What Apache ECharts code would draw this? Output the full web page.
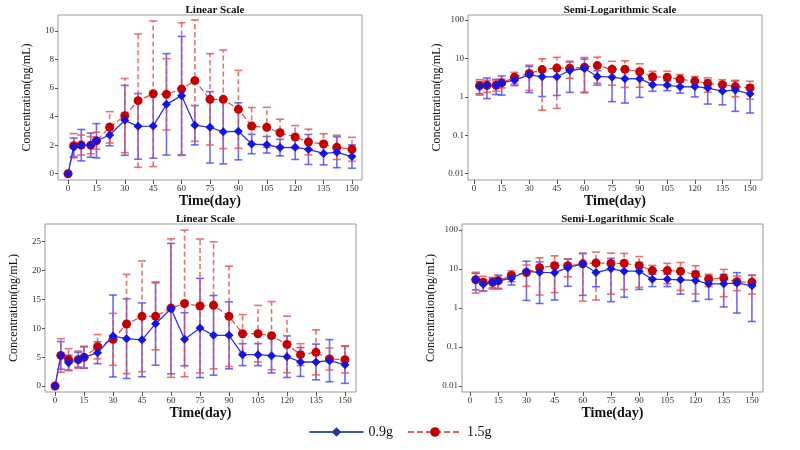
<!DOCTYPE html>
<html>
<head>
<meta charset="utf-8">
<script src="https://cdn.jsdelivr.net/npm/echarts@6/dist/echarts.min.js"></script>
<style>
  html, body { margin: 0; padding: 0; background: #fff; }
  #chart { width: 800px; height: 450px; }
</style>
</head>
<body>
<div id="chart"></div>
<script>
(function() {
  var days = [0, 3, 7, 12, 15, 22, 30, 37, 45, 52, 60, 67, 75, 82, 90, 97, 105, 112, 120, 127, 135, 142, 150];
  var xTicks = [0, 15, 30, 45, 60, 75, 90, 105, 120, 135, 150];
  var linTicksTop = [0, 2, 4, 6, 8, 10];
  var linTicksBottom = [0, 5, 10, 15, 20, 25];
  var logTicks = [0.01, 0.1, 1, 10, 100];

  // top row: mean and SD
  var lowMeanTop = [0, 1.85, 2.0, 2.0, 2.31, 2.71, 3.74, 3.32, 3.34, 4.86, 5.47, 3.40, 3.25, 2.94, 2.97, 2.08, 2.03, 1.83, 1.85, 1.70, 1.42, 1.50, 1.20];
  var lowSdTop = [0, 0.65, 1.1, 0.85, 1.2, 0.75, 2.45, 2.3, 2.25, 3.55, 4.15, 1.38, 2.5, 2.25, 2.0, 0.68, 0.58, 0.58, 0.85, 1.05, 0.8, 1.08, 0.82];
  var highMeanTop = [0, 1.96, 2.01, 2.0, 2.31, 3.25, 4.07, 5.12, 5.6, 5.56, 5.93, 6.52, 5.21, 5.21, 4.51, 3.34, 3.25, 2.87, 2.57, 2.22, 2.08, 1.85, 1.71];
  var highSdTop = [0, 0.85, 0.7, 0.6, 0.6, 1.1, 2.6, 4.67, 5.1, 2.5, 4.65, 4.25, 3.2, 3.45, 2.73, 1.3, 1.4, 0.95, 0.8, 0.9, 0.72, 0.85, 0.84];

  // bottom row: mean and SD
  var lowMeanBottom = [0, 5.3, 4.04, 4.56, 4.97, 5.77, 8.66, 8.2, 8.0, 10.8, 13.4, 8.1, 10.05, 8.78, 8.78, 5.43, 5.43, 5.25, 5.08, 4.16, 4.16, 4.39, 3.7];
  var lowSdBottom = [0, 2.4, 1.3, 1.3, 1.9, 1.9, 7.1, 6.9, 6.4, 7.2, 11.3, 4.6, 8.6, 6.9, 5.8, 1.9, 1.9, 3.0, 3.6, 2.5, 3.1, 3.65, 3.25];
  var highMeanBottom = [0, 5.3, 4.56, 4.56, 4.97, 6.81, 8.08, 10.74, 12.07, 12.07, 13.5, 14.3, 13.86, 13.97, 12.07, 9.06, 9.06, 8.72, 7.2, 5.43, 5.83, 4.68, 4.56];
  var highSdBottom = [0, 2.9, 1.9, 1.5, 1.8, 2.1, 4.5, 8.6, 9.6, 5.8, 12, 12.7, 11.6, 11, 8.7, 3.3, 4.9, 5.9, 4.9, 1.9, 3.9, 1.9, 2.3];

  var serif = 'Liberation Serif';
  var blueLine = '#2f2ff2';
  var blueMark = '#1515e0';
  var blueErr = 'rgba(60,60,245,0.75)';
  var redLine = '#e04a4a';
  var redMark = '#c40000';
  var redErr = 'rgba(225,80,80,0.8)';

  var chart = echarts.init(document.getElementById('chart'), null, { renderer: 'canvas' });

  var panels = [
    { left: 58, width: 304, top: 15, height: 165, xMin: -5.3, xMax: 155.3, log: false, yMin: -0.44, yMax: 11.12, yTicks: linTicksTop,
      title: 'Linear Scale', lowMean: lowMeanTop, lowSd: lowSdTop, highMean: highMeanTop, highSd: highSdTop },
    { left: 468, width: 294, top: 15, height: 165, xMin: -3.3, xMax: 156.5, log: true, yMin: 0.00687, yMax: 135, yTicks: logTicks,
      title: 'Semi-Logarithmic Scale', lowMean: lowMeanTop, lowSd: lowSdTop, highMean: highMeanTop, highSd: highSdTop },
    { left: 45, width: 311, top: 224, height: 168, xMin: -5.2, xMax: 155.7, log: false, yMin: -1.04, yMax: 28.07, yTicks: linTicksBottom,
      title: 'Linear Scale', lowMean: lowMeanBottom, lowSd: lowSdBottom, highMean: highMeanBottom, highSd: highSdBottom },
    { left: 462, width: 301, top: 224, height: 168, xMin: -4.3, xMax: 155.9, log: true, yMin: 0.0070, yMax: 142, yTicks: logTicks,
      title: 'Semi-Logarithmic Scale', lowMean: lowMeanBottom, lowSd: lowSdBottom, highMean: highMeanBottom, highSd: highSdBottom }
  ];

  function errRender(color, dashed) {
    return function(params, api) {
      var x = api.value(0);
      var lo = api.coord([x, api.value(1)]);
      var hi = api.coord([x, api.value(2)]);
      var style = { stroke: color, lineWidth: 1.6, lineDash: dashed ? [5, 3] : null };
      var capStyle = { stroke: color, lineWidth: 1.6 };
      var w = 4;
      return {
        type: 'group',
        children: [
          { type: 'line', shape: { x1: lo[0], y1: lo[1], x2: hi[0], y2: hi[1] }, style: style },
          { type: 'line', shape: { x1: hi[0] - w, y1: hi[1], x2: hi[0] + w, y2: hi[1] }, style: capStyle },
          { type: 'line', shape: { x1: lo[0] - w, y1: lo[1], x2: lo[0] + w, y2: lo[1] }, style: capStyle }
        ]
      };
    };
  }

  function buildData(mean, sd, log) {
    var pts = [], bars = [];
    days.forEach(function(d, i) {
      if (log && mean[i] <= 0) return;
      pts.push([d, mean[i]]);
      if (sd[i] > 0) {
        var lo = mean[i] - sd[i];
        if (log && lo <= 0) lo = 0.005;
        bars.push([d, lo, mean[i] + sd[i]]);
      }
    });
    return { pts: pts, bars: bars };
  }

  var grids = [], xAxes = [], yAxes = [], titles = [], series = [];

  panels.forEach(function(p, k) {
    grids.push({ left: p.left, top: p.top, width: p.width, height: p.height,
      show: true, borderColor: '#9a9a9a', borderWidth: 1, backgroundColor: 'transparent' });
    titles.push({ text: p.title, left: p.left + p.width / 2, top: p.top - 15, textAlign: 'center',
      textStyle: { fontFamily: serif, fontSize: 11, fontWeight: 'bold', color: '#111' } });
    xAxes.push({
      gridIndex: k, type: 'value', min: p.xMin, max: p.xMax,
      name: 'Time(day)', nameLocation: 'middle', nameGap: 12,
      nameTextStyle: { fontFamily: serif, fontSize: 14, fontWeight: 'bold', color: '#111' },
      axisLine: { show: false, onZero: false },
      axisTick: { show: true, length: 4, customValues: xTicks, lineStyle: { color: '#555' } },
      axisLabel: { customValues: xTicks, fontFamily: serif, fontSize: 9, color: '#333', margin: 4 },
      splitLine: { show: false }
    });
    yAxes.push({
      gridIndex: k, type: p.log ? 'log' : 'value', min: p.yMin, max: p.yMax,
      name: 'Concentration(ng/mL)', nameLocation: 'middle', nameRotate: 90, nameGap: 25,
      nameTextStyle: { fontFamily: serif, fontSize: 12, color: '#111' },
      axisLine: { show: false, onZero: false },
      axisTick: { show: true, length: 3, customValues: p.yTicks, lineStyle: { color: '#555' } },
      axisLabel: { customValues: p.yTicks, fontFamily: serif, fontSize: 9, color: '#333', margin: 4,
        formatter: function(v) { return String(v); } },
      splitLine: { show: false }
    });

    var a = buildData(p.lowMean, p.lowSd, p.log);
    var b = buildData(p.highMean, p.highSd, p.log);

    series.push({
      type: 'custom', name: 'err09', xAxisIndex: k, yAxisIndex: k, z: 2, silent: true,
      renderItem: errRender(blueErr, false), encode: { x: 0, y: [1, 2] }, data: a.bars
    });
    series.push({
      type: 'custom', name: 'err15', xAxisIndex: k, yAxisIndex: k, z: 2, silent: true,
      renderItem: errRender(redErr, true), encode: { x: 0, y: [1, 2] }, data: b.bars
    });
    series.push({
      type: 'line', name: '0.9g', xAxisIndex: k, yAxisIndex: k, z: 4,
      data: a.pts, symbol: 'diamond', symbolSize: 9,
      lineStyle: { color: blueLine, width: 1.3 }, itemStyle: { color: blueMark }
    });
    series.push({
      type: 'line', name: '1.5g', xAxisIndex: k, yAxisIndex: k, z: 3,
      data: b.pts, symbol: 'circle', symbolSize: 9,
      lineStyle: { color: redLine, width: 1.2, type: [6, 3] }, itemStyle: { color: redMark }
    });
  });

  chart.setOption({
    animation: false,
    backgroundColor: '#fff',
    title: titles,
    legend: {
      left: 'center', top: 420, itemWidth: 54, itemHeight: 12, itemGap: 14,
      textStyle: { fontFamily: serif, fontSize: 14, color: '#111' },
      data: [
        { name: '0.9g', itemStyle: { color: '#1d3a9c' }, lineStyle: { color: '#3a55b5' } },
        { name: '1.5g', itemStyle: { color: '#c00000' }, lineStyle: { color: '#e06060' } }
      ]
    },
    grid: grids,
    xAxis: xAxes,
    yAxis: yAxes,
    series: series
  });
})();
</script>
</body>
</html>
